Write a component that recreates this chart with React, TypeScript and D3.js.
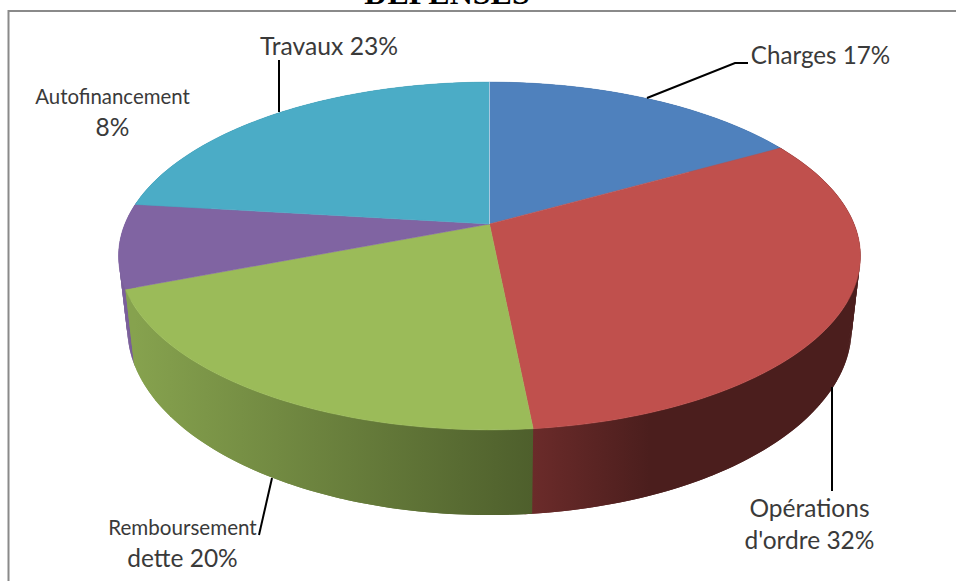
import React, { useEffect, useRef } from 'react';
import * as d3 from 'd3';

const categories = ['Charges', "Opérations d'ordre", 'Remboursement dette', 'Autofinancement', 'Travaux'];
// shares read from the slice boundaries, the printed labels are rounded
const shares = [16.8, 31.64, 20.66, 7.8, 23.1];
const topColors = ['#4f81bd', '#c0504d', '#9bbb59', '#8064a2', '#4bacc6'];
// wall shading, left to right
const wallStops = [
  ['#3f6797', '#3f6797'],
  ['#6b2b2a', '#4b1e1d'],
  ['#86a24e', '#4e5f2c'],
  ['#7a5f9a', '#735a92'],
  ['#3c8a9e', '#3c8a9e'],
];

const labels = [
  { lines: ['Travaux 23%'], sizes: [24.7], x: 329, y: [55] },
  { lines: ['Charges 17%'], sizes: [24.2], x: 820.5, y: [64] },
  { lines: ['Autofinancement', '8%'], sizes: [20.4, 24.5], x: 112.5, y: [104, 136] },
  { lines: ['Remboursement', 'dette 20%'], sizes: [20.6, 24.5], x: 182.5, y: [535, 567] },
  { lines: ['Opérations', "d'ordre 32%"], sizes: [24.5, 24.5], x: 809.5, y: [517, 549] },
];

const leaders = [
  [[279, 60], [279, 112]],
  [[647, 98], [735, 63], [748, 63]],
  [[272, 478], [259, 535]],
  [[832, 387], [832, 491]],
];

const W = 956;
const H = 581;
const cx = 489.5;
const persp = 0.184;
const topRim = { ax: 364.6, by: 168, y0: 224 };
const lowRim = { ax: 356, by: 180.7, y0: 293.6 };
const STEP = Math.PI / 180;

type Rim = { ax: number; by: number; y0: number };

// pie angle -> screen, with the near side of the disc enlarged
const project = (rim: Rim, a: number): [number, number] => {
  const u = Math.sin(a);
  const v = -Math.cos(a);
  const w = 1 - persp * v;
  return [cx + (rim.ax * u) / w, rim.y0 + (rim.by * v) / w];
};

const App = () => {
  const ref = useRef<SVGSVGElement>(null);

  useEffect(() => {
    const svg = d3.select(ref.current);
    svg.selectAll('*').remove();

    svg.append('rect').attr('width', W).attr('height', H).attr('fill', '#fff');

    svg.append('text')
      .attr('x', 447)
      .attr('y', 3.5)
      .attr('text-anchor', 'middle')
      .style('font-family', '"Liberation Serif", serif')
      .style('font-weight', 'bold')
      .style('font-size', '32px')
      .attr('fill', '#000')
      .text('DÉPENSES');

    svg.append('path')
      .attr('d', `M8.5,${H}V11H${W}`)
      .attr('fill', 'none')
      .attr('stroke', '#8a8a8a')
      .attr('stroke-width', 2);

    const pie = d3.pie<number>().sort(null);
    const arcs = pie(shares);
    const line = d3.line();

    const sample = (a0: number, a1: number) => {
      const n = Math.max(2, Math.ceil((a1 - a0) / STEP));
      return d3.range(n + 1).map(i => a0 + ((a1 - a0) * i) / n);
    };

    const defs = svg.append('defs');

    // walls first, back slices before front ones, green on top
    const drawOrder = [4, 0, 3, 1, 2];
    const walls = svg.append('g');
    drawOrder.forEach(i => {
      const d = arcs[i];
      // slices under the green one run a little past their ends so no white leaks at the seams
      const pad = i === 2 ? 0 : STEP;
      const angles = sample(d.startAngle - pad, d.endAngle + pad);
      const xs = sample(d.startAngle, d.endAngle).map(a => project(lowRim, a)[0]);
      const span = i === 1 ? [532, 650] : [d3.min(xs) as number, d3.max(xs) as number];
      const grad = defs.append('linearGradient')
        .attr('id', `wall-${i}`)
        .attr('gradientUnits', 'userSpaceOnUse')
        .attr('x1', span[0])
        .attr('x2', span[1])
        .attr('y1', 0)
        .attr('y2', 0);
      grad.append('stop').attr('offset', 0).attr('stop-color', wallStops[i][0]);
      grad.append('stop').attr('offset', 1).attr('stop-color', wallStops[i][1]);

      const last = angles[angles.length - 1];
      d3.pairs(angles).forEach(([a, b]) => {
        // each strip reaches under the next one
        const far = Math.min(b + STEP, last);
        const quad = [project(topRim, a), project(topRim, far), project(lowRim, far), project(lowRim, a)];
        walls.append('path')
          .attr('d', line(quad) + 'Z')
          .attr('fill', `url(#wall-${i})`);
      });
    });

    const faces = svg.append('g');
    arcs.forEach((d, i) => {
      const pts = sample(d.startAngle, d.endAngle).map(a => project(topRim, a));
      faces.append('path')
        .datum(categories[i])
        .attr('d', line([[cx, topRim.y0], ...pts]) + 'Z')
        .attr('fill', topColors[i])
        .attr('stroke', topColors[i])
        .attr('stroke-width', 0.5);
    });

    // pale seam at twelve o'clock
    faces.append('path')
      .attr('d', line([[cx, topRim.y0], project(topRim, 0)]))
      .attr('stroke', '#a8c8e0')
      .attr('stroke-width', 1);

    svg.append('g')
      .selectAll('path')
      .data(leaders)
      .join('path')
      .attr('d', d => line(d as [number, number][]))
      .attr('fill', 'none')
      .attr('stroke', '#000')
      .attr('stroke-width', 2);

    const text = svg.append('g')
      .style('font-family', 'Lato, sans-serif')
      .attr('fill', '#3a3a3a')
      .attr('text-anchor', 'middle');
    labels.forEach(l => {
      l.lines.forEach((s, j) => {
        text.append('text')
          .attr('x', l.x)
          .attr('y', l.y[j])
          .style('font-size', `${l.sizes[j]}px`)
          .text(s);
      });
    });
  }, []);

  return <svg ref={ref} width={W} height={H} style={{ position: 'absolute', left: 0, top: 0, display: 'block' }} />;
};

export default App;
